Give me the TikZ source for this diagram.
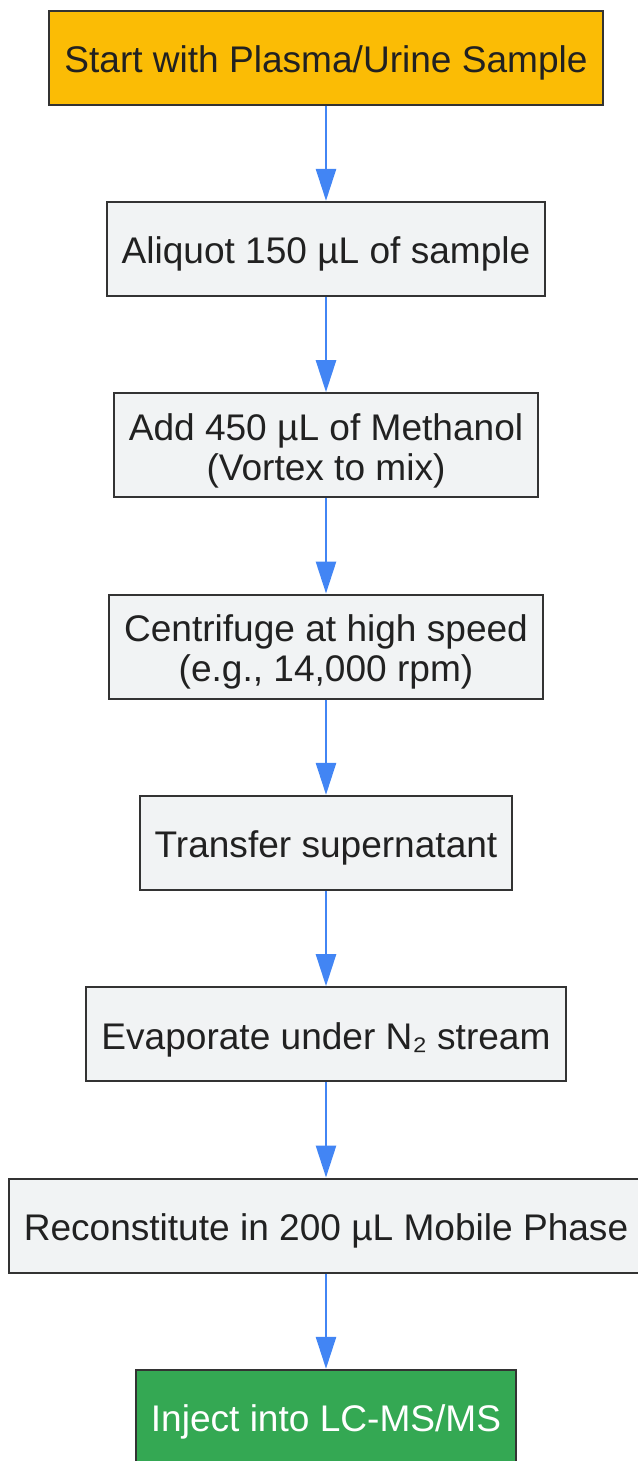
\documentclass[tikz,border=0pt]{standalone}
\usepackage{fontspec}
\setmainfont{Liberation Sans}
\usetikzlibrary{positioning,arrows.meta}
\definecolor{startyellow}{HTML}{FBBC05}
\definecolor{stepgray}{HTML}{F1F3F4}
\definecolor{endgreen}{HTML}{34A853}
\definecolor{flowblue}{HTML}{4285F4}
\definecolor{edgegray}{HTML}{333333}
\definecolor{textgray}{HTML}{212121}

\begin{document}
\begin{tikzpicture}[node distance=71.5pt,
  stepbox/.style={rectangle,draw=edgegray,line width=1.5pt,fill=stepgray,text=textgray,
    font=\fontsize{27.8pt}{30pt}\selectfont,align=center,inner xsep=11.25pt,
    text height=22.24pt,text depth=0pt,minimum height=70.5pt},
  tallbox/.style={stepbox,text height=52.24pt,minimum height=78pt},
  startbox/.style={stepbox,fill=startyellow},
  endbox/.style={stepbox,fill=endgreen,text=white},
  flow/.style={draw=flowblue,line width=2pt,-{Triangle[length=24pt,width=15pt]}}]
  \useasboundingbox (0,0) rectangle (478.5pt,-1095.75pt);
  \node [startbox] (start) at (244.5pt,-43.125pt) {Start with Plasma/Urine Sample};
  \node [stepbox,below=of start] (aliquot) {Aliquot 150 µL of sample};
  \node [tallbox,below=of aliquot] (methanol) {Add 450 µL of Methanol\\(Vortex to mix)};
  \node [tallbox,below=of methanol] (centrifuge) {Centrifuge at high speed\\(e.g., 14,000 rpm)};
  \node [stepbox,below=of centrifuge] (transfer) {Transfer supernatant};
  \node [stepbox,below=of transfer] (evaporate) {Evaporate under N₂ stream};
  \node [stepbox,below=of evaporate] (reconstitute) {Reconstitute in 200 µL Mobile Phase};
  \node [endbox,below=of reconstitute] (inject) {Inject into LC-MS/MS};
  \draw [flow] (start) -- (aliquot);
  \draw [flow] (aliquot) -- (methanol);
  \draw [flow] (methanol) -- (centrifuge);
  \draw [flow] (centrifuge) -- (transfer);
  \draw [flow] (transfer) -- (evaporate);
  \draw [flow] (evaporate) -- (reconstitute);
  \draw [flow] (reconstitute) -- (inject);
\end{tikzpicture}
\end{document}
